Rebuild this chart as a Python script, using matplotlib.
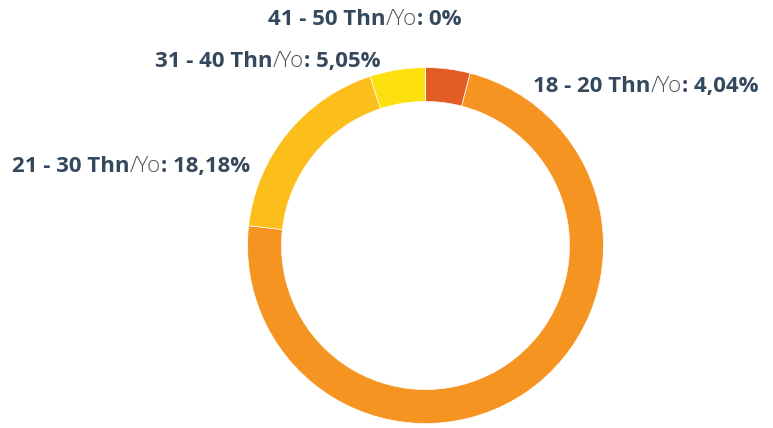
import matplotlib
matplotlib.use("Agg")
import matplotlib.pyplot as plt
from matplotlib.offsetbox import TextArea, HPacker, AnnotationBbox


# data, clockwise from the top
groups = ["18 - 20", "", "21 - 30", "31 - 40", "41 - 50"]
shares = [4.04, 72.73, 18.18, 5.05, 0.0]
share_text = ["4,04%", "72,73%", "18,18%", "5,05%", "0%"]
show_label = [True, False, True, True, True]
colors = ["#E35B25", "#F69422", "#FCBE1A", "#FDE010", "#F2A51E"]

# where each label sits (pixel coords, y from bottom) and how it is anchored
label_pos = [(533, 342), None, (12, 262), (155, 367), (365, 409)]
label_align = [(0, 0.5), None, (0, 0.5), (0, 0.5), (0.5, 0.5)]

DARK = "#34495E"
GREY = "#555555"
FONT = "Open Sans"
SIZE = 16

fig = plt.figure(figsize=(7.73, 4.28), dpi=100)
ax = fig.add_axes([0, 0, 1, 1])

ax.pie(
    shares,
    colors=colors,
    startangle=90,
    counterclock=False,
    radius=178,
    center=(425.5, 182.5),
    wedgeprops=dict(width=34, edgecolor="white", linewidth=0.5),
)

for i, group in enumerate(groups):
    if not show_label[i]:
        continue
    parts = [
        TextArea(group + " Thn", textprops=dict(family=FONT, weight="bold", size=SIZE, color=DARK)),
        TextArea("/Yo", textprops=dict(family=FONT, weight="light", size=SIZE, color=GREY)),
        TextArea(": " + share_text[i], textprops=dict(family=FONT, weight="bold", size=SIZE, color=DARK)),
    ]
    box = HPacker(children=parts, pad=0, sep=0, align="baseline")
    ab = AnnotationBbox(box, label_pos[i], xycoords="data", box_alignment=label_align[i],
                        frameon=False, pad=0)
    ax.add_artist(ab)

ax.set_xlim(0, 773)
ax.set_ylim(0, 428)
ax.set_aspect("equal")
ax.axis("off")

fig.savefig("out.png", dpi=100)
